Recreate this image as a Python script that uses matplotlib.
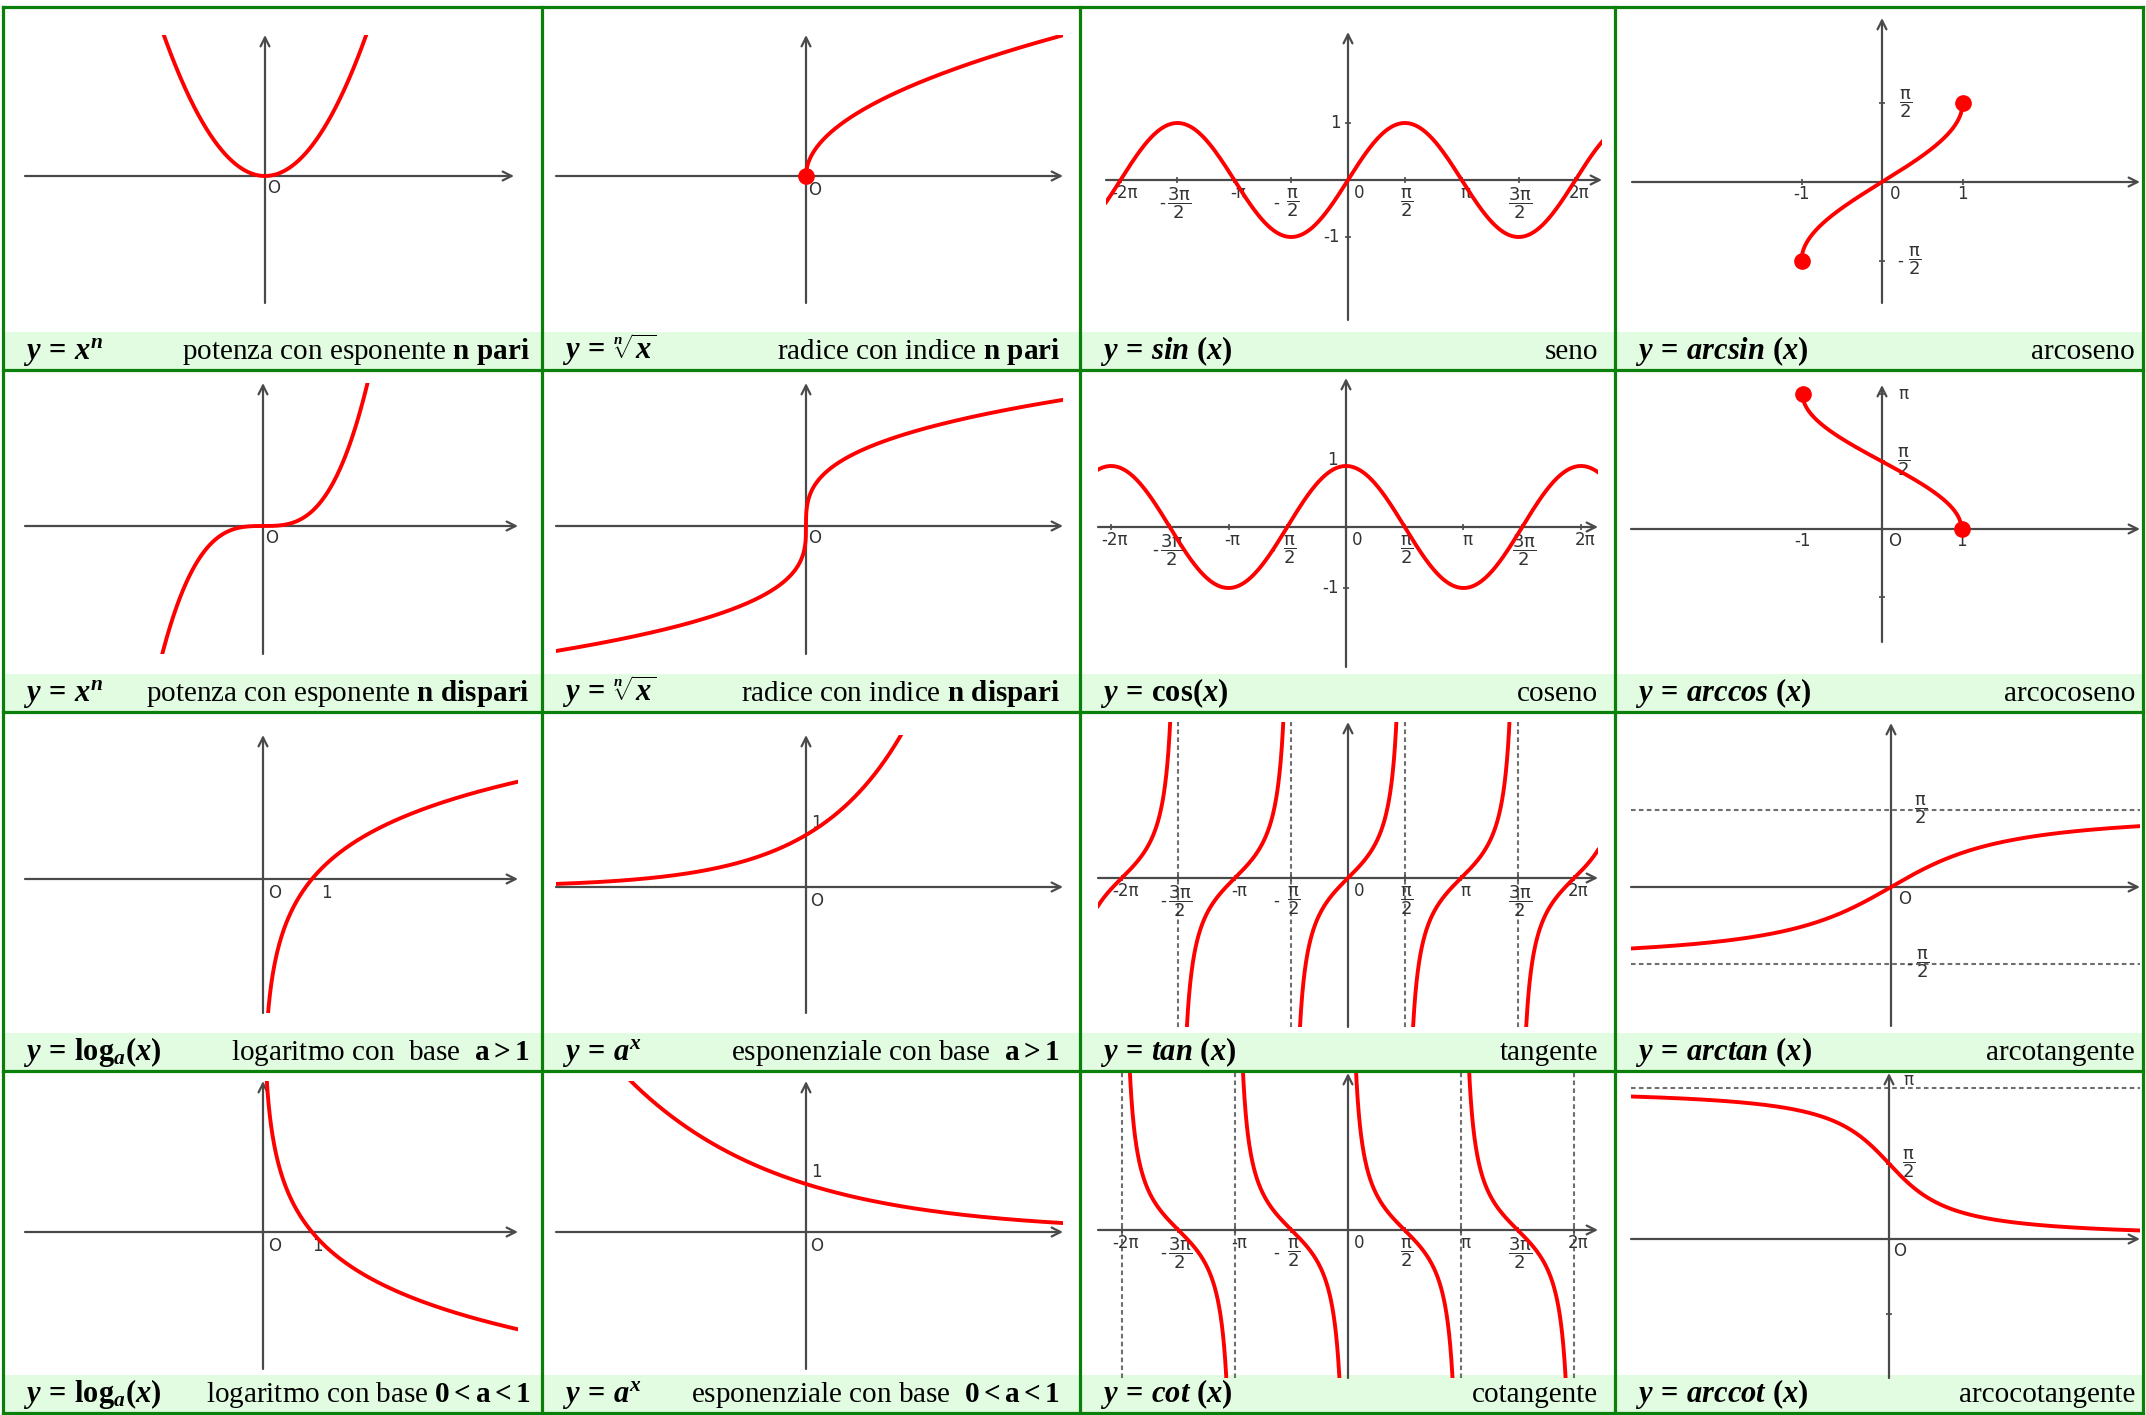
import numpy as np
import matplotlib
matplotlib.use("Agg")
import matplotlib.pyplot as plt
from matplotlib.patches import Rectangle

plt.rcParams["font.family"] = ["Liberation Serif", "DejaVu Serif"]
plt.rcParams["mathtext.fontset"] = "custom"
plt.rcParams["mathtext.rm"] = "Liberation Serif:bold"
plt.rcParams["mathtext.it"] = "Liberation Serif:italic:bold"
plt.rcParams["mathtext.bf"] = "Liberation Serif:bold"

PI = np.pi

# captions (row by row)
formulas = [
    r"$y\,=\,x^{n}$", r"$y\,=\,\sqrt[n]{x}$", r"$y\,=\,sin\ (x)$", r"$y\,=\,arcsin\ (x)$",
    r"$y\,=\,x^{n}$", r"$y\,=\,\sqrt[n]{x}$", r"$y\,=\,\mathbf{cos}(x)$", r"$y\,=\,arccos\ (x)$",
    r"$y\,=\,\mathbf{log}_{a}(x)$", r"$y\,=\,a^{x}$", r"$y\,=\,tan\ (x)$", r"$y\,=\,arctan\ (x)$",
    r"$y\,=\,\mathbf{log}_{a}(x)$", r"$y\,=\,a^{x}$", r"$y\,=\,cot\ (x)$", r"$y\,=\,arccot\ (x)$",
]
descriptions = [
    r"potenza con esponente $\mathbf{n\ pari}$", r"radice con indice $\mathbf{n\ pari}$",
    "seno", "arcoseno",
    r"potenza con esponente $\mathbf{n\ dispari}$", r"radice con indice $\mathbf{n\ dispari}$",
    "coseno", "arcocoseno",
    r"logaritmo con  base  $\mathbf{a > 1}$", r"esponenziale con base  $\mathbf{a > 1}$",
    "tangente", "arcotangente",
    r"logaritmo con base $\mathbf{0 < a < 1}$", r"esponenziale con base  $\mathbf{0 < a < 1}$",
    "cotangente", "arcocotangente",
]

# function parameters
even_n = 2
odd_n = 3
root_even_n = 2
root_odd_n = 3
log_base_big = np.e
log_base_small = 1 / np.e
exp_base_big = 2.0
exp_base_small = 0.5
cot_domain = [-2 * PI, 2 * PI]

# trig tick marks (multiples of pi/2) and their labels
HALF_PI = r"$\dfrac{\mathrm{π}}{2}$"
THREE_HALF_PI = r"$\dfrac{\mathrm{3π}}{2}$"
trig_half_steps = [-4, -3, -2, -1, 1, 2, 3, 4]
trig_labels = ["-2π", THREE_HALF_PI, "-π", HALF_PI, HALF_PI, "π", THREE_HALF_PI, "2π"]
tan_asymptotes = [-3 * PI / 2, -PI / 2, PI / 2, 3 * PI / 2]
cot_asymptotes = [-2 * PI, -PI, PI, 2 * PI]

# ---- layout (pixels of the 2146x1415 picture) ----
W, H = 2146, 1415
col_edges = [3, 542, 1080, 1615, 2143]
row_edges = [7, 370, 712, 1071, 1413]
band_h = 38
right_pad = [12, 20, 17, 8]

# graph box (x from, x to, y top, y bottom), origin and px per unit
panel_boxes = [
    (25, 514, 35, 303), (556, 1063, 35, 303), (1106, 1602, 32, 320), (1632, 2140, 18, 303),
    (25, 518, 383, 654), (556, 1063, 383, 654), (1098, 1598, 378, 667), (1631, 2140, 385, 642),
    (25, 518, 735, 1013), (556, 1063, 735, 1013), (1098, 1598, 722, 1027), (1631, 2140, 723, 1026),
    (25, 518, 1081, 1369), (556, 1063, 1081, 1369), (1098, 1598, 1073, 1378), (1631, 2140, 1073, 1378),
]
panel_origins = [
    (265, 176), (806, 176), (1348, 180), (1882, 182),
    (263, 526), (806, 526), (1346, 527), (1882, 529),
    (263, 879), (806, 887), (1348, 878), (1891, 887),
    (263, 1232), (806, 1232), (1348, 1230), (1889, 1239),
]
panel_scales = [
    (51.5, 36.5), (51.5, 63), (36.2, 57), (80.5, 50),
    (52, 17.6), (32, 63), (37.4, 61), (79.5, 43),
    (49, 59), (61.4, 52), (36, 36), (85, 49),
    (49, 59), (106, 48), (36, 36), (45, 48),
]

RED = "#ff0000"
AXC = "#4a4a4a"
TXT = "#333333"
GREEN = "#0a800a"
BAND = "#e1fce1"
DASH = "#6e6e6e"

fig = plt.figure(figsize=(W / 100, H / 100), dpi=100)
bg = fig.add_axes([0, 0, 1, 1])
bg.set_xlim(0, W)
bg.set_ylim(H, 0)
bg.axis("off")

# caption bands and texts
for r in range(4):
    for c in range(4):
        k = r * 4 + c
        x0, x1 = col_edges[c], col_edges[c + 1]
        yb = row_edges[r + 1]
        bg.add_patch(Rectangle((x0, yb - band_h), x1 - x0, band_h, color=BAND, lw=0))
        bg.text(x0 + 20, yb - 11, formulas[k], ha="left", va="baseline", fontsize=22)
        bg.text(x1 - right_pad[c], yb - 11, descriptions[k], ha="right", va="baseline", fontsize=21)

for x in col_edges:
    bg.plot([x, x], [row_edges[0], row_edges[-1]], color=GREEN, lw=2.3, solid_capstyle="projecting")
for y in row_edges:
    bg.plot([col_edges[0], col_edges[-1]], [y, y], color=GREEN, lw=2.3, solid_capstyle="projecting")


def make_panel(k):
    xa, xb, yt, yb = panel_boxes[k]
    ox, oy = panel_origins[k]
    sx, sy = panel_scales[k]
    ax = fig.add_axes([xa / W, 1 - yb / H, (xb - xa) / W, (yb - yt) / H])
    ax.set_xlim((xa - ox) / sx, (xb - ox) / sx)
    ax.set_ylim((oy - yb) / sy, (oy - yt) / sy)
    ax.axis("off")
    ax.patch.set_visible(False)
    x0, x1 = ax.get_xlim()
    y0, y1 = ax.get_ylim()
    arrow = dict(arrowstyle="->", color=AXC, lw=1.6, shrinkA=0, shrinkB=0, mutation_scale=16)
    ax.annotate("", xy=(x1, 0), xytext=(x0, 0), arrowprops=arrow, annotation_clip=False)
    ax.annotate("", xy=(0, y1), xytext=(0, y0), arrowprops=arrow, annotation_clip=False)
    return ax


def lab(ax, x, y, s, dx, dy, ha="center", va="center", size=12):
    ax.annotate(s, (x, y), xytext=(dx, -dy), textcoords="offset pixels", ha=ha, va=va,
                fontsize=size, color=TXT, family="DejaVu Sans", math_fontfamily="dejavusans",
                annotation_clip=False)


def frac(ax, x, y, s, dx, dy, minus=False, mdx=-17):
    lab(ax, x, y, s, dx, dy, size=13)
    if minus:
        lab(ax, x, y, "-", dx + mdx, dy, size=12)


def curve(ax, x, y):
    ax.plot(x, y, color=RED, lw=2.8, zorder=4)


def dots(ax, x, y):
    ax.plot(x, y, "o", color=RED, ms=11, zorder=5, clip_on=False)


def xs(ax, lo=None, hi=None, n=2000):
    a, b = ax.get_xlim()
    return np.linspace(a if lo is None else lo, b if hi is None else hi, n)


def trig_ticks(ax, zero_label="0"):
    vals = [h * PI / 2 for h in trig_half_steps]
    ax.plot(vals, np.zeros(len(vals)), "|", color=AXC, ms=5, mew=1.2)
    for h, v, t in zip(trig_half_steps, vals, trig_labels):
        if t.startswith("$"):
            frac(ax, v, 0, t, 2, 23, minus=h < 0)
        else:
            lab(ax, v, 0, t, 4, 13)
    lab(ax, 0, 0, zero_label, 11, 13)


def dashed_v(ax, vals):
    for v in vals:
        ax.axvline(v, color=DASH, lw=1.5, ls=(0, (2.2, 1.6)), zorder=2)


def dashed_h(ax, vals):
    for v in vals:
        ax.axhline(v, color=DASH, lw=1.5, ls=(0, (2.2, 1.6)), zorder=2)


# row 1
ax = make_panel(0)
x = xs(ax)
curve(ax, x, x ** even_n)
lab(ax, 0, 0, "O", 9, 12)

ax = make_panel(1)
x = xs(ax, lo=0)
curve(ax, x, x ** (1 / root_even_n))
dots(ax, [0], [0])
lab(ax, 0, 0, "O", 9, 14)

ax = make_panel(2)
x = xs(ax)
curve(ax, x, np.sin(x))
trig_ticks(ax)
ax.plot([0, 0], [1, -1], "_", color=AXC, ms=5, mew=1.2)
lab(ax, 0, 1, "1", -13, 0)
lab(ax, 0, -1, "-1", -16, 0)

ax = make_panel(3)
x = xs(ax, -1, 1)
curve(ax, x, np.arcsin(x))
dots(ax, [-1, 1], [-PI / 2, PI / 2])
ax.plot([0, 0], [PI / 2, -PI / 2], "_", color=AXC, ms=5, mew=1.2)
ax.plot([-1, 1], [0, 0], "|", color=AXC, ms=5, mew=1.2)
frac(ax, 0, PI / 2, HALF_PI, 24, 0)
frac(ax, 0, -PI / 2, HALF_PI, 33, 0, minus=True, mdx=-15)
lab(ax, -1, 0, "-1", 0, 12)
lab(ax, 1, 0, "1", 0, 12)
lab(ax, 0, 0, "0", 13, 12)

# row 2
ax = make_panel(4)
x = xs(ax)
curve(ax, x, x ** odd_n)
lab(ax, 0, 0, "O", 9, 12)

ax = make_panel(5)
x = xs(ax)
curve(ax, x, np.sign(x) * np.abs(x) ** (1 / root_odd_n))
lab(ax, 0, 0, "O", 9, 12)

ax = make_panel(6)
x = xs(ax)
curve(ax, x, np.cos(x))
trig_ticks(ax)
ax.plot([0, 0], [1, -1], "_", color=AXC, ms=5, mew=1.2)
lab(ax, 0, 1, "1", -14, -6)
lab(ax, 0, -1, "-1", -16, 0)

ax = make_panel(7)
x = xs(ax, -1, 1)
curve(ax, x, np.arccos(x))
dots(ax, [-1, 1], [PI, 0])
ax.plot([0, 0, 0], [PI, PI / 2, -PI / 2], "_", color=AXC, ms=5, mew=1.2)
lab(ax, 0, PI, "π", 21, 0)
frac(ax, 0, PI / 2, HALF_PI, 22, 0)
lab(ax, -1, 0, "-1", 0, 12)
lab(ax, 1, 0, "1", 0, 12)
lab(ax, 0, 0, "O", 13, 12)

# row 3
ax = make_panel(8)
x = xs(ax, lo=0.002)
curve(ax, x, np.log(x) / np.log(log_base_big))
lab(ax, 0, 0, "O", 12, 14)
lab(ax, 1, 0, "1", 14, 14)

ax = make_panel(9)
x = xs(ax)
curve(ax, x, exp_base_big ** x)
lab(ax, 0, 0, "O", 11, 14)
lab(ax, 0, 1, "1", 10, -12)

ax = make_panel(10)
x = xs(ax, n=6000)
y = np.tan(x)
y[np.abs(y) > 40] = np.nan
dashed_v(ax, tan_asymptotes)
curve(ax, x, y)
trig_ticks(ax)

ax = make_panel(11)
x = xs(ax)
dashed_h(ax, [PI / 2, -PI / 2])
curve(ax, x, np.arctan(x))
frac(ax, 0, PI / 2, HALF_PI, 30, 0)
frac(ax, 0, -PI / 2, HALF_PI, 32, 0, minus=True, mdx=-14)
lab(ax, 0, 0, "O", 14, 12)

# row 4
ax = make_panel(12)
x = xs(ax, lo=0.002)
curve(ax, x, np.log(x) / np.log(log_base_small))
lab(ax, 0, 0, "O", 12, 14)
lab(ax, 1, 0, "1", 5, 14)

ax = make_panel(13)
x = xs(ax)
curve(ax, x, exp_base_small ** x)
lab(ax, 0, 0, "O", 11, 14)
lab(ax, 0, 1, "1", 10, -12)

ax = make_panel(14)
x = xs(ax, cot_domain[0], cot_domain[1], n=6000)
y = 1 / np.tan(x)
y[np.abs(y) > 40] = np.nan
dashed_v(ax, cot_asymptotes)
curve(ax, x, y)
trig_ticks(ax)

ax = make_panel(15)
x = xs(ax)
dashed_h(ax, [PI])
curve(ax, x, PI / 2 - np.arctan(x))
ax.plot([0, 0], [PI / 2, -PI / 2], "_", color=AXC, ms=5, mew=1.2)
lab(ax, 0, PI, "π", 19, -8)
frac(ax, 0, PI / 2, HALF_PI, 20, 0)
lab(ax, 0, 0, "O", 11, 12)

fig.savefig("out.png", dpi=100)
